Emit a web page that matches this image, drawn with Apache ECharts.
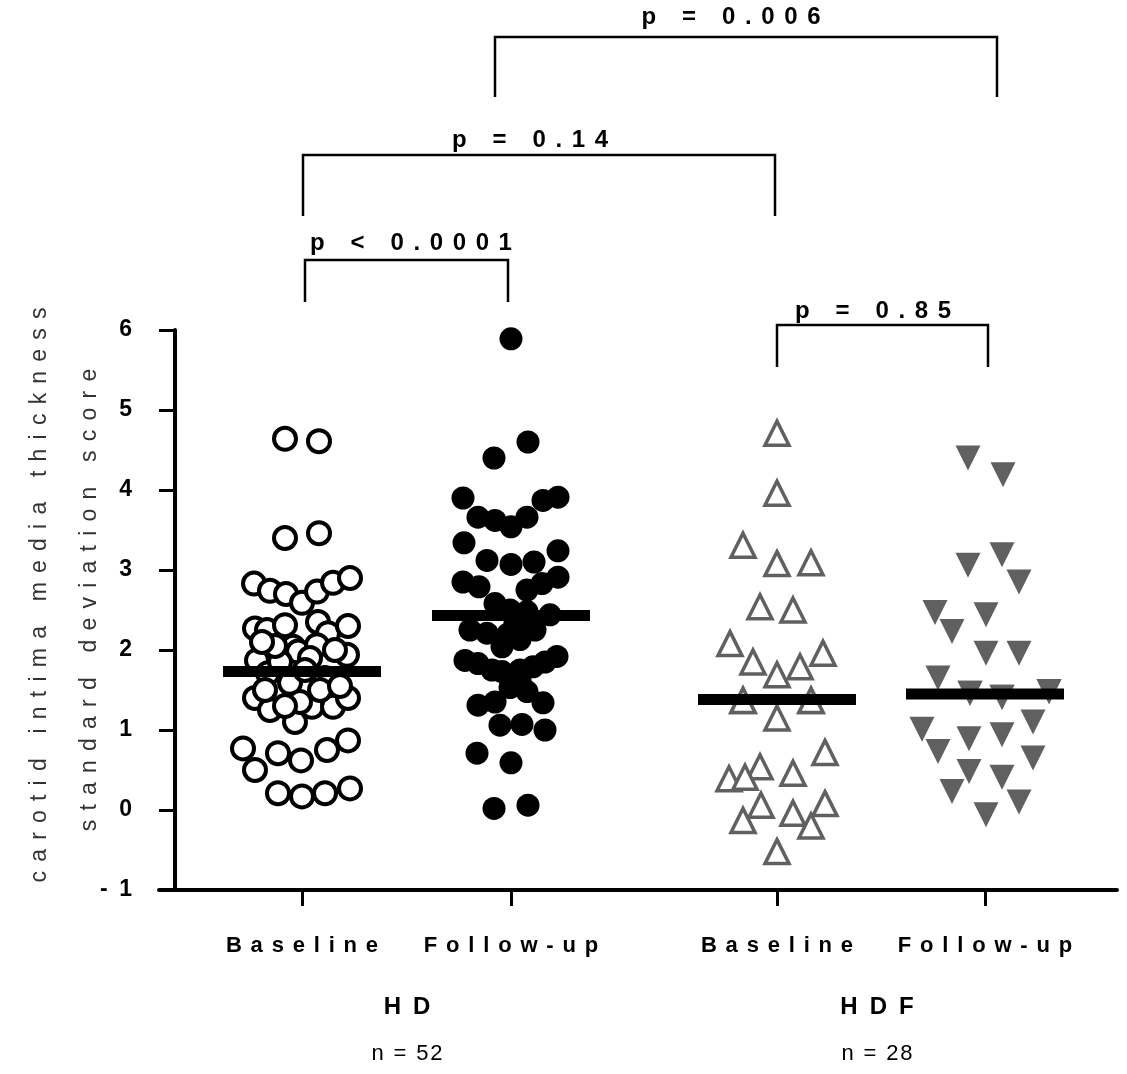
<!DOCTYPE html>
<html><head><meta charset="utf-8">
<script src="https://cdn.jsdelivr.net/npm/echarts@6/dist/echarts.min.js"></script>
<style>html,body{margin:0;padding:0;background:#fff}#c{width:1127px;height:1074px}</style>
</head><body><div id="c"></div>
<script>
// ---------------- data ----------------
const categories = ['Baseline', 'Follow-up', 'Baseline', 'Follow-up'];
const groupNames = ['HD', 'HDF'];
const groupCounts = ['n = 52', 'n = 28'];
const yTicks = [-1, 0, 1, 2, 3, 4, 5, 6];
const yTitle1 = 'carotid intima media thickness';
const yTitle2 = 'standard deviation score';

const hdBaseline = [4.64, 4.61, 3.40, 3.46, 2.83, 2.74, 2.70, 2.59, 2.73, 2.84, 2.90,
  2.27, 2.25, 2.31, 2.35, 2.21, 2.30,
  1.87, 2.04, 1.98, 2.06, 1.94,
  1.71, 1.59, 1.65,
  1.40, 1.25, 1.10, 1.29, 1.29, 1.40,
  0.77, 0.50, 0.71, 0.62, 0.75, 0.87,
  0.21, 0.17, 0.21, 0.27,
  1.85, 1.90, 1.50, 1.50, 1.35, 1.30, 1.55, 2.05, 2.00, 1.75, 2.10];
const hdBaselineJitter = [-17, 17, -17, 17, -48, -32, -16, 0, 15, 31, 48,
  -47, -35, -17, 16, 26, 46,
  -45, -9, -4, 15, 45,
  -34, -12, 23,
  -47, -32, -7, 10, 31, 46,
  -59, -47, -24, -1, 25, 46,
  -24, 0, 23, 48,
  -22, 8, -37, 18, -2, -17, 38, -27, 33, 3, -40];

const hdFollowUp = [5.89, 4.40, 4.60,
  3.90, 3.66, 3.62, 3.54, 3.66, 3.87, 3.91,
  3.34, 3.12, 3.07, 3.10, 3.24,
  2.85, 2.79, 2.75, 2.83, 2.91,
  2.58, 2.50, 2.48, 2.44,
  2.25, 2.21, 2.20, 2.25, 2.13, 2.04,
  1.87, 1.83, 1.75, 1.73, 1.75, 1.79, 1.85, 1.92,
  1.53, 1.48, 1.62,
  1.31, 1.35, 1.34,
  1.06, 1.07, 1.00,
  0.71, 0.59,
  0.02, 0.06,
  2.35];
const hdFollowUpJitter = [0, -17, 17,
  -48, -33, -16, 0, 16, 32, 47,
  -47, -24, 0, 23, 47,
  -48, -32, 16, 31, 47,
  -16, -1, 16, 39,
  -41, -24, -3, 24, 9, -9,
  -46, -33, -19, -9, 9, 22, 34, 46,
  -1, 16, 9,
  -33, -16, 32,
  -11, 11, 34,
  -34, 0,
  -17, 17,
  4];

const hdfBaseline = [4.71, 3.96, 3.31, 3.08, 3.09, 2.54, 2.50,
  2.08, 1.85, 1.69, 1.79, 1.96,
  1.37, 1.37, 1.15,
  0.72, 0.54, 0.39, 0.41, 0.46,
  0.06, -0.13, -0.04, 0.08, -0.20,
  -0.52,
  1.37, 1.37];
const hdfBaselineJitter = [0, 0, -34, 0, 34, -17, 16,
  -47, -24, 0, 23, 46,
  -34, 34, 0,
  48, -17, -48, -32, 16,
  -16, -34, 16, 48, 34,
  0,
  -34, 34];

const hdfFollowUp = [4.40, 4.19, 3.06, 3.19, 2.85,
  2.47, 2.44, 2.23, 1.96, 1.96,
  1.65, 1.46, 1.41, 1.48,
  1.01, 1.10, 0.89, 0.94,
  0.73, 0.65, 0.48, 0.41,
  0.23, 0.10, -0.06,
  1.46, 1.41, 1.48];
const hdfFollowUpJitter = [-17, 18, -17, 17, 34,
  -50, 1, -33, 1, 34,
  -47, -15, 17, 64,
  -63, 48, -16, 17,
  -47, 48, -16, 17,
  -33, 34, 1,
  -15, 17, 64];

const means = [1.73, 2.43, 1.38, 1.45];
const pLabels = ['p < 0.0001', 'p = 0.14', 'p = 0.006', 'p = 0.85'];

// ---------------- layout ----------------
const catPos = [127, 336, 602, 810];             // x-axis units of the four columns
const groupLabelX = [232, 702];                   // x-axis units of the group captions
// bracket: [xLeft, xRight] in x-axis units, top/bottom/label y in px, label x in axis units
const brackets = [
  { x: [130, 333], top: 260, bottom: 302, ly: 243, lx: 236 },
  { x: [128, 600], top: 155, bottom: 216, ly: 140, lx: 355 },
  { x: [320, 822], top: 37, bottom: 97, ly: 17, lx: 556 },
  { x: [602, 813], top: 325, bottom: 367, ly: 311, lx: 698 }
];

const EN = '\u2002', TH = '\u2009', HA = '\u200A';
const sp = (s, g) => s.split('').join(g);
const SANS = "'Liberation Sans',Arial,Helvetica,sans-serif";
const GRAY = '#606060';

const pts = (vals, jit, c) => vals.map((v, i) => [catPos[c] + jit[i], v]);

const chart = echarts.init(document.getElementById('c'), null, { renderer: 'canvas' });
chart.setOption({
  animation: false,
  backgroundColor: '#fff',
  grid: { left: 159, right: 10, top: 330, bottom: 184, containLabel: false },
  xAxis: {
    type: 'value', min: -16, max: 942,
    axisLine: { onZero: false, lineStyle: { color: '#000', width: 4 } },
    axisTick: { show: true, customValues: catPos, length: 16, lineStyle: { color: '#000', width: 3 } },
    axisLabel: {
      customValues: catPos, margin: 45,
      formatter: v => sp(categories[catPos.indexOf(v)] || '', TH + TH),
      fontFamily: SANS, fontWeight: 'bold', fontSize: 22, color: '#000'
    },
    splitLine: { show: false }
  },
  yAxis: {
    type: 'value', min: -1, max: 6, interval: 1,
    axisLine: { show: true, onZero: true, lineStyle: { color: '#000', width: 4 } },
    axisTick: { show: true, length: 16, lineStyle: { color: '#000', width: 3 } },
    axisLabel: {
      margin: 27,
      formatter: v => yTicks.includes(v) ? (v < 0 ? '-' + EN + (-v) : String(v)) : '',
      fontFamily: SANS, fontWeight: 'bold', fontSize: 23, color: '#000'
    },
    splitLine: { show: false }
  },
  series: [
    { type: 'scatter', silent: true, data: pts(hdBaseline, hdBaselineJitter, 0), symbol: 'circle', symbolSize: 22,
      itemStyle: { color: '#fff', borderColor: '#000', borderWidth: 4, opacity: 1 } },
    { type: 'scatter', silent: true, data: pts(hdFollowUp, hdFollowUpJitter, 1), symbol: 'circle', symbolSize: 23,
      itemStyle: { color: '#000', opacity: 1 } },
    { type: 'scatter', silent: true, data: pts(hdfBaseline, hdfBaselineJitter, 2), symbol: 'triangle', symbolSize: 24,
      itemStyle: { color: '#fff', borderColor: GRAY, borderWidth: 3.5, opacity: 1 } },
    { type: 'scatter', silent: true, data: pts(hdfFollowUp, hdfFollowUpJitter, 3), symbol: 'triangle', symbolRotate: 180, symbolSize: 25,
      itemStyle: { color: GRAY, opacity: 1 } },
    { type: 'scatter', silent: true, z: 10, data: means.map((m, i) => [catPos[i], m]), symbol: 'rect', symbolSize: [158, 11],
      itemStyle: { color: '#000', opacity: 1 } }
  ]
});

const px = v => chart.convertToPixel({ xAxisIndex: 0 }, v);
const graphics = [];
brackets.forEach((b, i) => {
  const xl = px(b.x[0]), xr = px(b.x[1]);
  graphics.push({ type: 'polyline', silent: true,
    shape: { points: [[xl, b.bottom], [xl, b.top], [xr, b.top], [xr, b.bottom]] },
    style: { stroke: '#000', lineWidth: 2.5, fill: null } });
  graphics.push({ type: 'text', silent: true, x: px(b.lx), y: b.ly,
    style: { text: sp(pLabels[i], TH + TH), font: 'bold 24px ' + SANS, fill: '#000', align: 'center', verticalAlign: 'middle' } });
});
groupNames.forEach((g, i) => {
  graphics.push({ type: 'text', silent: true, x: px(groupLabelX[i]), y: 1007,
    style: { text: sp(g, EN), font: 'bold 24px ' + SANS, fill: '#000', align: 'center', verticalAlign: 'middle' } });
  graphics.push({ type: 'text', silent: true, x: px(groupLabelX[i]), y: 1054,
    style: { text: sp(groupCounts[i], HA), font: '22px ' + SANS, fill: '#000', align: 'center', verticalAlign: 'middle' } });
});
graphics.push({ type: 'text', silent: true, x: 40, y: 595, rotation: Math.PI / 2,
  style: { text: sp(yTitle1, TH + TH), font: '23px ' + SANS, fill: '#333', align: 'center', verticalAlign: 'middle' } });
graphics.push({ type: 'text', silent: true, x: 90, y: 600, rotation: Math.PI / 2,
  style: { text: sp(yTitle2, TH + TH), font: '23px ' + SANS, fill: '#333', align: 'center', verticalAlign: 'middle' } });
chart.setOption({ graphic: graphics });
</script>
</body></html>
